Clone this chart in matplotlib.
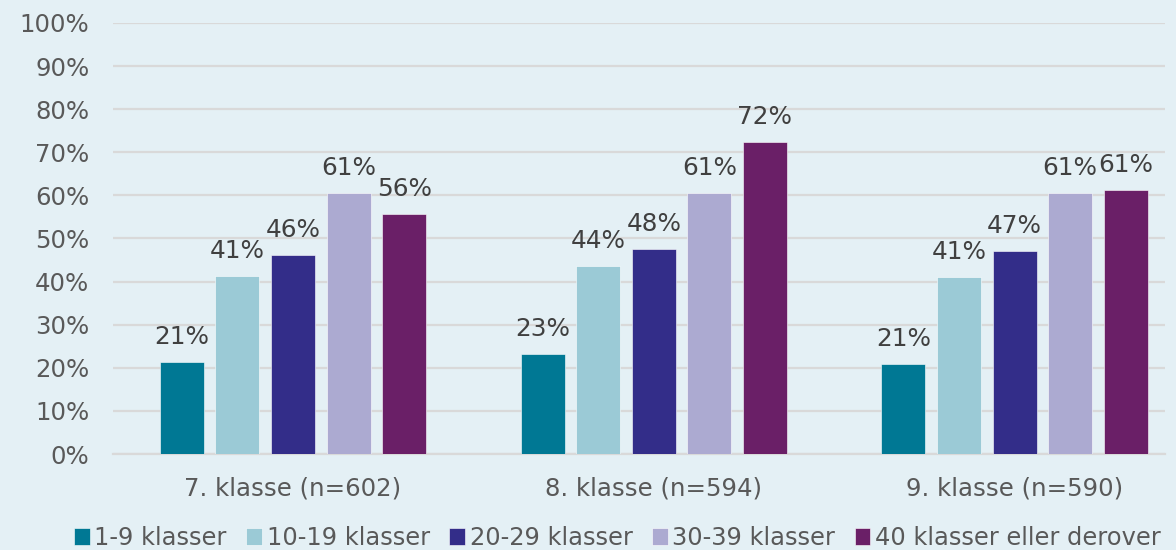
import matplotlib
matplotlib.use("Agg")
import matplotlib.pyplot as plt
import numpy as np

categories = ["7. klasse (n=602)", "8. klasse (n=594)", "9. klasse (n=590)"]
series_names = ["1-9 klasser", "10-19 klasser", "20-29 klasser", "30-39 klasser", "40 klasser eller derover"]
values = {
    "1-9 klasser": [21.3, 23.2, 20.9],
    "10-19 klasser": [41.3, 43.6, 41.1],
    "20-29 klasser": [46.2, 47.6, 47.1],
    "30-39 klasser": [60.6, 60.6, 60.6],
    "40 klasser eller derover": [55.7, 72.4, 61.3],
}
colors = ["#007894", "#9bcad6", "#332d89", "#acaad1", "#6a1f67"]
yticks = list(range(0, 101, 10))

bg = "#e4f0f5"
fig = plt.figure(figsize=(11.76, 5.5), dpi=100, facecolor=bg)
ax = fig.add_axes([113/1176, 1-454/550, (1165-113)/1176, (454-23)/550])
ax.set_facecolor(bg)

x = np.arange(len(categories))
width = 0.122
step = 0.154
for i, name in enumerate(series_names):
    pos = x + (i - 2) * step
    bars = ax.bar(pos, values[name], width, color=colors[i], label=name, zorder=3,
                  edgecolor="#ffffff", linewidth=0.4)
    for b, v in zip(bars, values[name]):
        ax.text(b.get_x() + b.get_width()/2, v + 3.0, f"{int(round(v))}%",
                ha="center", va="bottom", fontsize=17.8, color="#404040", zorder=4)

ax.set_ylim(0, 100)
ax.set_xlim(-0.499, 2.417)
ax.set_yticks(yticks)
ax.set_yticklabels([f"{t}%" for t in yticks], fontsize=17.6, color="#595959")
ax.set_xticks(x)
ax.set_xticklabels(categories, fontsize=17.6, color="#595959")
ax.tick_params(axis="y", length=0, pad=17)
ax.tick_params(axis="x", length=0, pad=16)
ax.grid(axis="y", color="#d9d9d9", linewidth=1.6, zorder=0)
for s in ["top", "right", "left"]:
    ax.spines[s].set_visible(False)
ax.spines["bottom"].set_color("#d9d9d9")
ax.spines["bottom"].set_linewidth(1.6)

leg = fig.legend(loc="center", bbox_to_anchor=(0.525, 1-538/550), ncol=5, frameon=False,
                 fontsize=17.4, handlelength=0.65, handleheight=0.65, handletextpad=0.2,
                 columnspacing=0.8, borderaxespad=0)
for t in leg.get_texts():
    t.set_color("#595959")

fig.savefig("out.png", dpi=100, facecolor=bg)
